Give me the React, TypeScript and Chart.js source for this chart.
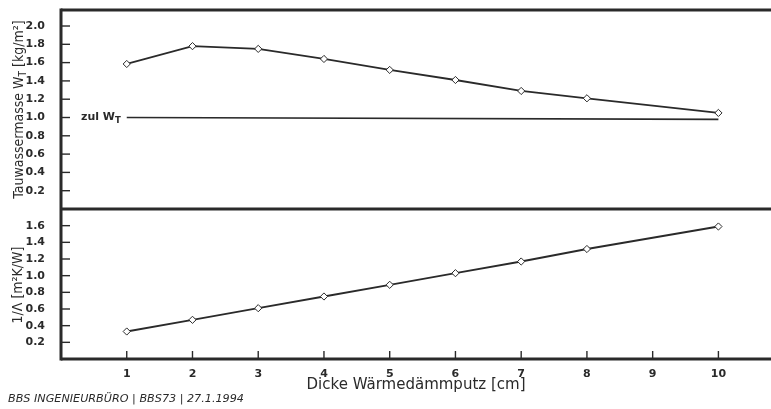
import { useEffect, useRef } from "react";
import { Chart, registerables } from "chart.js";

Chart.register(...registerables);

// Dicke Wärmedämmputz [cm]
const thickness = [1, 2, 3, 4, 5, 6, 7, 8, 10];
// Tauwassermasse W_T [kg/m²]
const tauwassermasse = [1.585, 1.78, 1.75, 1.64, 1.52, 1.41, 1.29, 1.21, 1.05];
// 1/Λ [m²K/W]
const waermedurchlass = [0.33, 0.47, 0.61, 0.75, 0.89, 1.03, 1.17, 1.32, 1.59];
// zulässige Tauwassermasse
const limitX = [1, 10];
const limitY = [1.0, 0.98];

const xTicks = [1, 2, 3, 4, 5, 6, 7, 8, 9, 10];
const topTicks = [0.2, 0.4, 0.6, 0.8, 1.0, 1.2, 1.4, 1.6, 1.8, 2.0];
const bottomTicks = [0.2, 0.4, 0.6, 0.8, 1.0, 1.2, 1.4, 1.6];

const topTitle = ["Tauwassermasse W", "T", " [kg/m²]"];
const bottomTitle = ["1/Λ [m²K/W]"];
const limitLabel = ["zul W", "T"];
const xTitle = "Dicke Wärmedämmputz [cm]";
const footer = "BBS INGENIEURBÜRO | BBS73 | 27.1.1994";

const INK = "#2a2a2a";

function measureSegments(
  ctx: CanvasRenderingContext2D,
  segs: string[],
  size: number,
  subSize: number,
  family: string,
  weight: string
) {
  let total = 0;
  segs.forEach((s, i) => {
    ctx.font = `${weight} ${i % 2 === 1 ? subSize : size}px ${family}`;
    total += ctx.measureText(s).width;
  });
  return total;
}

function paintSegments(
  ctx: CanvasRenderingContext2D,
  segs: string[],
  startX: number,
  size: number,
  subSize: number,
  family: string,
  weight: string,
  subDrop: number
) {
  let x = startX;
  segs.forEach((s, i) => {
    const sub = i % 2 === 1;
    ctx.font = `${weight} ${sub ? subSize : size}px ${family}`;
    ctx.fillText(s, x, sub ? subDrop : 0);
    x += ctx.measureText(s).width;
  });
}

const framePlugin = {
  id: "frame",
  afterDraw(chart: any) {
    const { ctx, chartArea } = chart;
    const x = chart.scales.x;
    const yTop = chart.scales.yTop;
    const yBot = chart.scales.yBot;
    const { left, right, top, bottom } = chartArea;
    const sep = yTop.bottom;
    ctx.save();
    ctx.strokeStyle = INK;
    ctx.lineCap = "butt";
    const line = (x1: number, y1: number, x2: number, y2: number) => {
      ctx.beginPath();
      ctx.moveTo(x1, y1);
      ctx.lineTo(x2, y2);
      ctx.stroke();
    };
    ctx.lineWidth = 3;
    line(left, top - 1.5, left, bottom + 1.5);
    line(left, top, right, top);
    line(left, sep, right, sep);
    line(left, bottom, right, bottom);

    ctx.lineWidth = 1.4;
    topTicks.forEach((v) => {
      const py = yTop.getPixelForValue(v);
      line(left, py, left + 9, py);
    });
    bottomTicks.forEach((v) => {
      const py = yBot.getPixelForValue(v);
      line(left, py, left + 9, py);
    });
    xTicks.forEach((v) => {
      const px = x.getPixelForValue(v);
      line(px, bottom, px, bottom - 8);
    });

    // y titles (rotated, with subscript)
    ctx.fillStyle = INK;
    ctx.textBaseline = "middle";
    ctx.textAlign = "left";
    const fam = "'DejaVu Sans Condensed', 'DejaVu Sans', sans-serif";
    const drawRotated = (segs: string[], cx: number, cy: number) => {
      const total = measureSegments(ctx, segs, 14, 10, fam, "normal");
      ctx.save();
      ctx.translate(cx, cy);
      ctx.rotate(-Math.PI / 2);
      paintSegments(ctx, segs, -total / 2, 14, 10, fam, "normal", 4);
      ctx.restore();
    };
    drawRotated(topTitle, 19, (top + sep) / 2);
    drawRotated(bottomTitle, 18, (sep + bottom) / 2 + 1);

    // limit label
    const lx = x.getPixelForValue(limitX[0]) - 6;
    const ly = yTop.getPixelForValue(limitY[0]);
    const lfam = "'DejaVu Sans', sans-serif";
    const total = measureSegments(ctx, limitLabel, 11, 8.5, lfam, "bold");
    ctx.save();
    ctx.translate(0, ly);
    paintSegments(ctx, limitLabel, lx - total, 11, 8.5, lfam, "bold", 3);
    ctx.restore();
    ctx.restore();
  },
};

export default function App() {
  const ref = useRef<HTMLCanvasElement | null>(null);

  useEffect(() => {
    if (!ref.current) return;
    const tickFont = { family: "'DejaVu Sans', sans-serif", size: 11, weight: "bold" as const };
    const yFit = (s: any) => {
      s.width = 61;
      s.paddingTop = 0;
      s.paddingBottom = 0;
    };
    const chart = new Chart(ref.current, {
      type: "line",
      data: {
        datasets: [
          {
            label: "Tauwassermasse",
            data: thickness.map((t, i) => ({ x: t, y: tauwassermasse[i] })),
            yAxisID: "yTop",
            borderColor: INK,
            borderWidth: 1.8,
            pointStyle: "rectRot",
            pointRadius: 3.6,
            pointBorderWidth: 1,
            pointBorderColor: INK,
            pointBackgroundColor: "#ffffff",
            tension: 0,
          },
          {
            label: "zul W_T",
            data: limitX.map((t, i) => ({ x: t, y: limitY[i] })),
            yAxisID: "yTop",
            borderColor: INK,
            borderWidth: 1.6,
            pointRadius: 0,
          },
          {
            label: "1/Λ",
            data: thickness.map((t, i) => ({ x: t, y: waermedurchlass[i] })),
            yAxisID: "yBot",
            borderColor: INK,
            borderWidth: 1.8,
            pointStyle: "rectRot",
            pointRadius: 3.6,
            pointBorderWidth: 1,
            pointBorderColor: INK,
            pointBackgroundColor: "#ffffff",
            tension: 0,
          },
        ],
      },
      options: {
        animation: false,
        responsive: false,
        maintainAspectRatio: false,
        layout: { autoPadding: false, padding: { top: 10, right: 0, bottom: 0, left: 0 } },
        plugins: { legend: { display: false }, tooltip: { enabled: false } },
        scales: {
          x: {
            type: "linear",
            position: "bottom",
            min: 0,
            max: 10.8,
            grid: { display: false },
            border: { display: false },
            afterBuildTicks: (s: any) => {
              s.ticks = xTicks.map((v) => ({ value: v }));
            },
            afterFit: (s: any) => {
              s.height = 50;
              s.paddingRight = 0;
              s.paddingLeft = 0;
            },
            ticks: {
              padding: 1,
              color: INK,
              font: tickFont,
              maxRotation: 0,
              autoSkip: false,
              callback: (v: any) => String(v),
            },
            title: {
              display: true,
              text: xTitle,
              color: INK,
              padding: 15,
              font: { family: "'DejaVu Sans', sans-serif", size: 15 },
            },
          },
          yBot: {
            type: "linear",
            position: "left",
            stack: "panels",
            stackWeight: 150,
            min: 0,
            max: 1.8,
            grid: { display: false },
            border: { display: false },
            afterBuildTicks: (s: any) => {
              s.ticks = bottomTicks.map((v) => ({ value: v }));
            },
            afterFit: yFit,
            ticks: {
              padding: 8,
              color: INK,
              font: tickFont,
              autoSkip: false,
              callback: (v: any) => Number(v).toFixed(1),
            },
          },
          yTop: {
            type: "linear",
            position: "left",
            stack: "panels",
            stackWeight: 199,
            min: 0,
            max: 2.175,
            grid: { display: false },
            border: { display: false },
            afterBuildTicks: (s: any) => {
              s.ticks = topTicks.map((v) => ({ value: v }));
            },
            afterFit: yFit,
            ticks: {
              padding: 8,
              color: INK,
              font: tickFont,
              autoSkip: false,
              callback: (v: any) => Number(v).toFixed(1),
            },
          },
        },
      } as any,
      plugins: [framePlugin],
    });
    return () => chart.destroy();
  }, []);

  return (
    <div style={{ position: "absolute", left: 0, top: 0, width: 771, height: 409, background: "#fff" }}>
      <canvas ref={ref} width={771} height={409} style={{ display: "block", width: 771, height: 409 }} />
      <div
        style={{
          position: "absolute",
          left: 8,
          top: 392,
          fontFamily: "'DejaVu Sans', sans-serif",
          fontStyle: "italic",
          fontSize: 11.2,
          color: INK,
          whiteSpace: "nowrap",
          lineHeight: "14px",
        }}
      >
        {footer}
      </div>
    </div>
  );
}
